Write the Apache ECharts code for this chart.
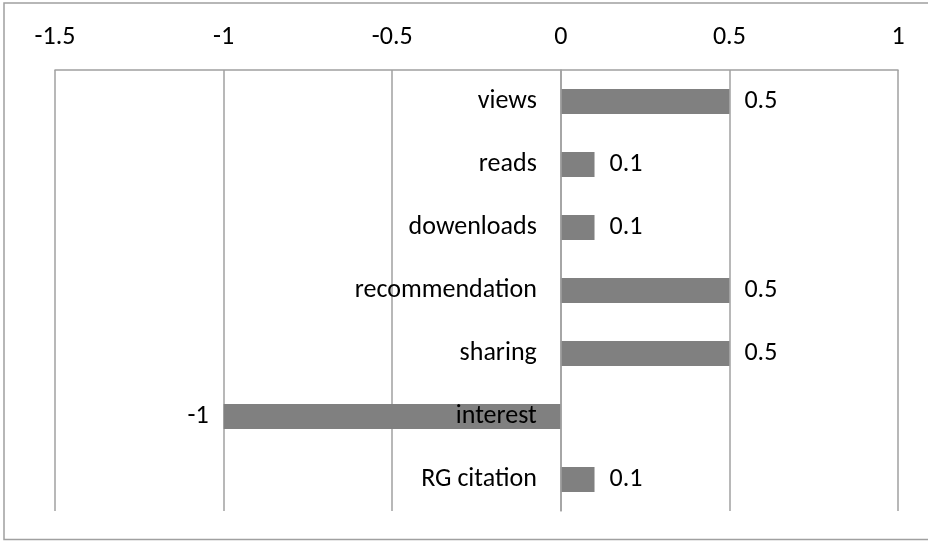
<!DOCTYPE html>
<html>
<head>
<meta charset="utf-8">
<script src="https://cdn.jsdelivr.net/npm/echarts@6/dist/echarts.min.js"></script>
<style>
  html, body { margin: 0; padding: 0; background: #fff; }
  #chart { width: 928px; height: 541px; }
</style>
</head>
<body>
<div id="chart"></div>
<script>
// Metric categories, top to bottom
const categories = ['views', 'reads', 'dowenloads', 'recommendation', 'sharing', 'interest', 'RG citation'];
// Score per metric
const scores = [0.5, 0.1, 0.1, 0.5, 0.5, -1, 0.1];
// Value axis range and step
const axisMin = -1.5;
const axisMax = 1;
const axisStep = 0.5;

const FONT = 'Carlito, Lato, "Open Sans", sans-serif';
const FONT_SIZE = 26;
const LINE = '#a0a0a0';

const chart = echarts.init(document.getElementById('chart'), null, { renderer: 'canvas' });

chart.setOption({
  animation: false,
  backgroundColor: '#ffffff',
  grid: { left: 55, right: 30, top: 70, bottom: 30, containLabel: false, outerBoundsMode: 'none' },
  graphic: [{
    type: 'rect',
    shape: { x: 4, y: 3, width: 930, height: 536.5 },
    style: { fill: 'none', stroke: LINE, lineWidth: 1.5 },
    silent: true,
    z: 0
  }],
  xAxis: {
    type: 'value',
    position: 'top',
    min: axisMin,
    max: axisMax,
    interval: axisStep,
    axisLine: { show: true, lineStyle: { color: LINE, width: 1.5 } },
    axisTick: { show: false },
    splitLine: { show: true, lineStyle: { color: LINE, width: 1.5 } },
    axisLabel: {
      margin: 20,
      color: '#000',
      fontFamily: FONT,
      fontSize: FONT_SIZE
    }
  },
  yAxis: {
    type: 'category',
    data: categories,
    inverse: true,
    offset: 0,
    z: 10,
    axisLine: { show: true, onZero: false, lineStyle: { color: LINE, width: 1.5 } },
    axisTick: { show: false },
    splitLine: { show: false },
    axisLabel: {
      margin: 24,
      color: '#000',
      fontFamily: FONT,
      fontSize: FONT_SIZE
    }
  },
  series: [{
    type: 'bar',
    data: scores.map(v => v < 0 ? { value: v, label: { position: 'left' } } : v),
    barWidth: 25,
    itemStyle: { color: '#808080' },
    label: {
      show: true,
      position: 'right',
      distance: 15,
      color: '#000',
      fontFamily: FONT,
      fontSize: FONT_SIZE,
      formatter: p => String(p.value)
    }
  }]
});

// Move the category axis (line and labels) onto the value 0 position
const zeroX = chart.convertToPixel({ xAxisIndex: 0 }, 0);
const leftX = chart.convertToPixel({ xAxisIndex: 0 }, axisMin);
chart.setOption({ yAxis: { offset: -(zeroX - leftX) } });
</script>
</body>
</html>
